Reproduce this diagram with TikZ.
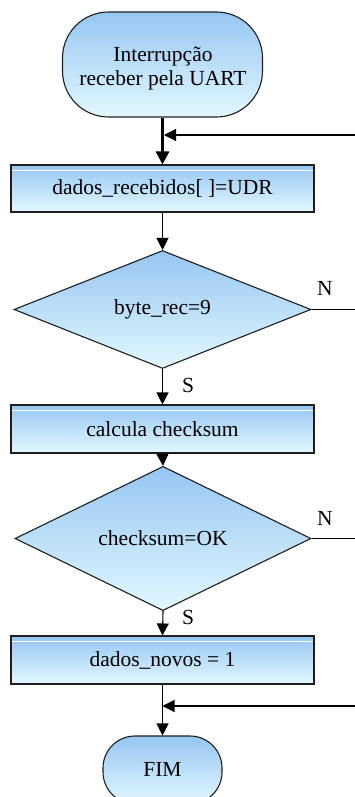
\documentclass[tikz,border=0pt]{standalone}
\usepackage{fontspec}
\setmainfont{Liberation Serif}
\usetikzlibrary{shapes.geometric,arrows.meta}
\definecolor{topc}{RGB}{150,198,242}
\definecolor{botc}{RGB}{226,248,255}
\definecolor{edgec}{RGB}{30,30,30}
\begin{document}
\begin{tikzpicture}[x=1pt,y=-1pt,
  every node/.style={font=\fontsize{21.5}{23}\selectfont},
  fillshade/.style={top color=topc,bottom color=botc,draw=edgec,line width=1.1pt},
  procbox/.style={fillshade,rectangle,minimum width=303pt,minimum height=47pt,inner sep=0pt,
    path picture={\draw[white,line width=0.8pt] ([yshift=-5pt]path picture bounding box.north west) -- ([yshift=-5pt]path picture bounding box.north east);}},
  decbox/.style={fillshade,diamond,minimum width=297pt,minimum height=118pt,inner sep=0pt},
  termbox/.style={fillshade,rectangle,inner sep=0pt,align=center},
  lbl/.style={inner sep=0pt},
  flow/.style={line width=1.1pt,-{Triangle[length=12pt,width=12pt]}},
  plain/.style={line width=1.1pt}]
\useasboundingbox (0,0) rectangle (355,797);
\node[termbox,minimum width=200pt,minimum height=105pt,rounded corners=46pt] (start) at (162.5,64.5) {};
\node[lbl] (t1) at (163,57) {Interrupção};
\node[lbl] (t2) at (163,80) {receber pela UART};
\node[procbox] (p1) at (162.5,188.5) {dados\_recebidos[ ]=UDR};
\node[decbox] (d1) at (162.5,309.5) {byte\_rec=9};
\node[procbox,minimum height=48pt] (p2) at (162.5,429) {calcula checksum};
\node[decbox,minimum height=119pt,minimum width=296pt] (d2) at (163,538.5) {checksum=OK};
\node[procbox,minimum height=48pt] (p3) at (162.5,660) {dados\_novos = 1};
\node[termbox,minimum width=119pt,minimum height=68pt,rounded corners=32pt] (fim) at (162.5,770) {};
\node[lbl] (ft) at (162.5,769) {FIM};
\node[lbl] (n1) at (325,288) {N};
\node[lbl] (n2) at (325,518) {N};
\node[lbl] (s1) at (188,385) {S};
\node[lbl] (s2) at (188,617) {S};
\coordinate (r1) at (355,135);
\coordinate (r2) at (355,706);
\coordinate (e1) at (355,309.5);
\coordinate (e2) at (355,538.5);
\draw[flow,line width=3pt,-{Triangle[length=13pt,width=13pt]}] (start.south) -- (p1.north);
\draw[flow] (r1) -- ([xshift=1.5pt]r1 -| start.south);
\draw[flow] (p1.south) -- (d1.north);
\draw[flow] (d1.south) -- (p2.north);
\draw[flow] (p2.south) -- (d2.north);
\draw[flow] (d2.south) -- (p3.north);
\draw[flow] (p3.south) -- (fim.north);
\draw[flow] (r2) -- (r2 -| p3.south);
\draw[plain] (d1.east) -- (e1);
\draw[plain] (d2.east) -- (e2);
\end{tikzpicture}
\end{document}
